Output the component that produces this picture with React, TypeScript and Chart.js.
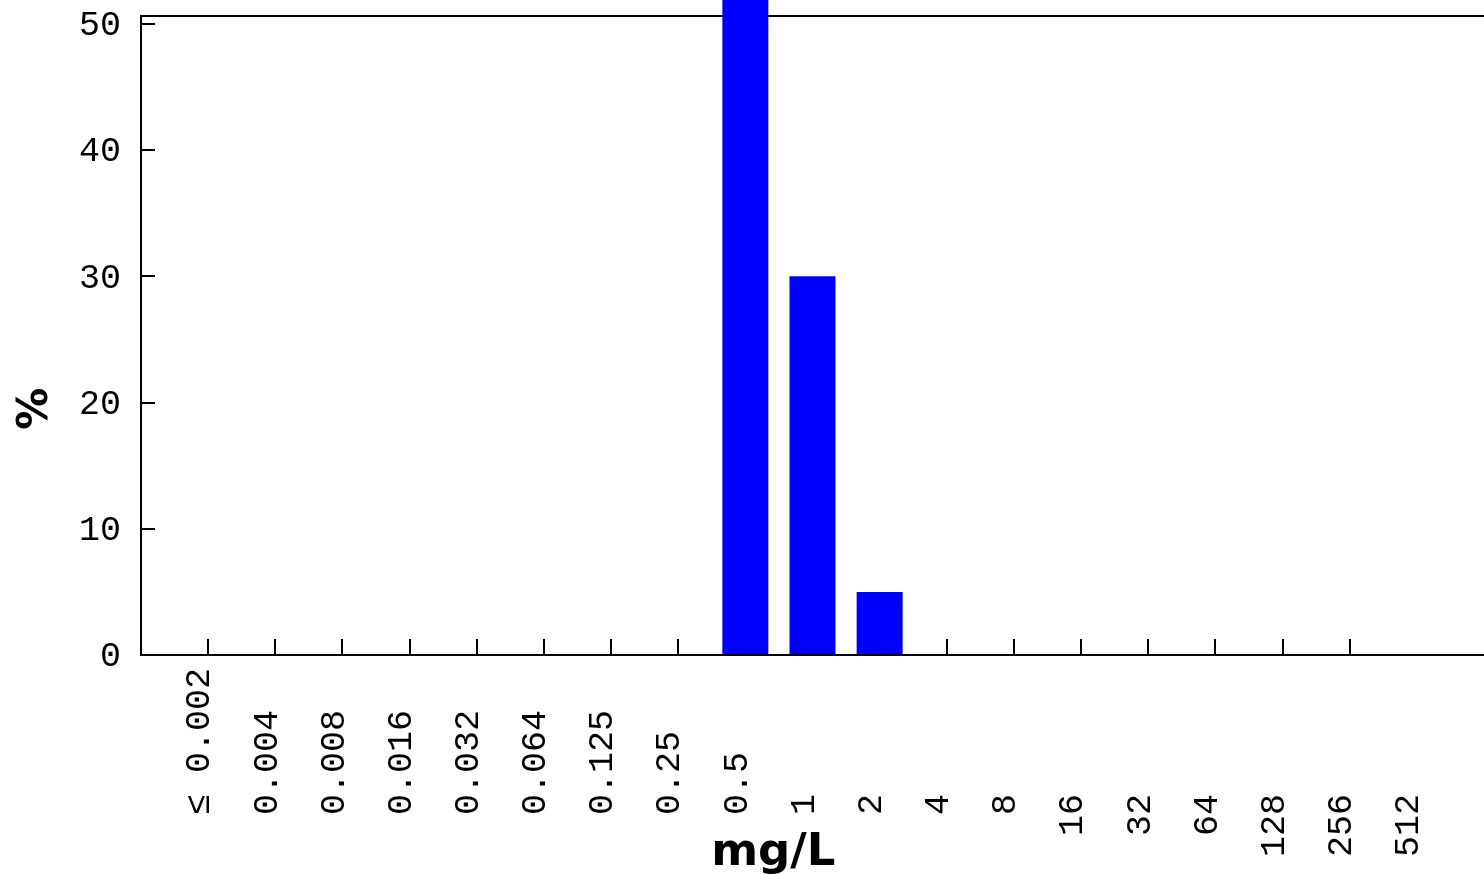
import React, { useEffect, useRef } from 'react';
import { Chart, registerables } from 'chart.js';

Chart.register(...registerables);

const categories = ['≤ 0.002', '0.004', '0.008', '0.016', '0.032', '0.064', '0.125', '0.25', '0.5', '1', '2', '4', '8', '16', '32', '64', '128', '256', '512'];
const percentValues = [0, 0, 0, 0, 0, 0, 0, 0, 65, 30, 5, 0, 0, 0, 0, 0, 0, 0, 0];
const yTickValues = [0, 10, 20, 30, 40, 50];
const yMax = 50.63;
const xTitle = 'mg/L';
const yTitle = '%';

function padLabel(s: string): string {
  if (!s) return '';
  return /[.≤]/.test(s) ? s.padEnd(7, ' ') : s + '      ';
}

export default function App() {
  const canvasRef = useRef<HTMLCanvasElement | null>(null);

  useEffect(() => {
    const canvas = canvasRef.current;
    if (!canvas) return;
    const labels = ['', ...categories, ''];
    const data = [null, ...percentValues, null];
    const tickFont = { family: 'Liberation Mono', size: 35 };
    const chart = new Chart(canvas, {
      type: 'bar',
      data: {
        labels,
        datasets: [
          {
            data: data as any,
            backgroundColor: '#0000FF',
            borderWidth: 0,
            barPercentage: 0.685,
            categoryPercentage: 1,
            clip: false as any,
          },
        ],
      },
      options: {
        responsive: false,
        animation: false,
        devicePixelRatio: 1,
        layout: { padding: { top: 16, left: 0, right: 0, bottom: 0 } },
        plugins: { legend: { display: false }, tooltip: { enabled: false } },
        scales: {
          x: {
            type: 'category',
            position: 'bottom',
            offset: false,
            grid: {
              display: true,
              offset: false,
              drawOnChartArea: false,
              drawTicks: true,
              tickLength: -16,
              lineWidth: 2,
              color: (c: any) => (c.index === 0 || c.index >= labels.length - 2 ? 'rgba(0,0,0,0)' : '#000'),
            },
            border: { display: true, color: '#000', width: 2 },
            ticks: {
              autoSkip: false,
              maxRotation: 90,
              minRotation: 90,
              padding: 29,
              labelOffset: -8,
              color: '#000',
              font: tickFont,
              callback: function (this: any, value: any) {
                return padLabel(this.getLabelForValue(value));
              },
            },
            title: {
              display: true,
              text: xTitle + '     ',
              color: '#000',
              font: { family: 'DejaVu Sans', size: 45, weight: 'bold', lineHeight: 1 },
              padding: { top: 0, bottom: -2 },
            },
            afterFit: (s: any) => {
              s.height = 219;
              s.paddingLeft = 0;
              s.paddingRight = 0;
            },
          },
          xTop: {
            type: 'category',
            position: 'top',
            offset: false,
            grid: { display: false, drawTicks: false },
            ticks: { display: false },
            border: { display: true, color: '#000', width: 2 },
            afterFit: (s: any) => {
              s.height = 0;
              s.paddingLeft = 0;
              s.paddingRight = 0;
              s.paddingTop = 0;
              s.paddingBottom = 0;
            },
          },
          y: {
            type: 'linear',
            min: 0,
            max: yMax,
            grid: {
              display: true,
              drawOnChartArea: false,
              drawTicks: true,
              tickLength: -14,
              lineWidth: 2,
              color: '#000',
            },
            border: { display: true, color: '#000', width: 2 },
            ticks: {
              stepSize: 10,
              includeBounds: false,
              padding: 34,
              labelOffset: 2,
              color: '#000',
              font: tickFont,
            },
            afterBuildTicks: (s: any) => {
              s.ticks = yTickValues.map((v) => ({ value: v }));
            },
            title: {
              display: true,
              text: yTitle + '          ',
              color: '#000',
              font: { family: 'DejaVu Sans', size: 42, weight: 'bold', lineHeight: 1 },
              padding: { top: 15, bottom: 0 },
            },
            afterFit: (s: any) => {
              s.width = 141;
              s.paddingTop = 0;
              s.paddingBottom = 0;
            },
          },
        },
      } as any,
    });
    return () => chart.destroy();
  }, []);

  return (
    <div style={{ position: 'fixed', left: 0, top: 0, width: 1484, height: 874, background: '#fff', overflow: 'hidden' }}>
      <canvas ref={canvasRef} width={1484} height={874} style={{ display: 'block' }} />
    </div>
  );
}
